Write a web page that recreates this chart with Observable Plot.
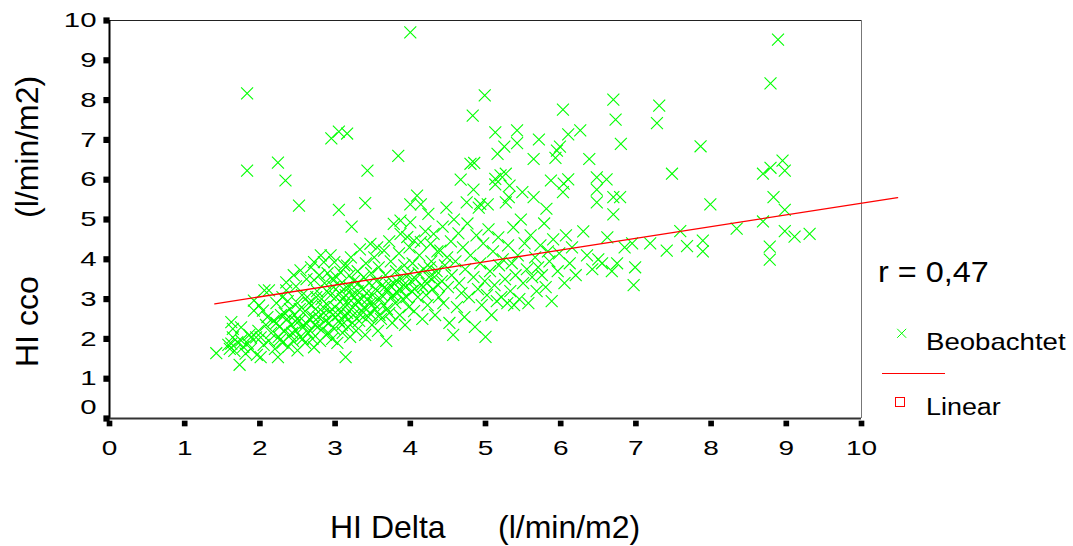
<!DOCTYPE html>
<html><head><meta charset="utf-8">
<script src="https://cdn.jsdelivr.net/npm/d3@7"></script>
<script src="https://cdn.jsdelivr.net/npm/@observablehq/plot@0.6"></script>
<style>body{margin:0;background:#fff} #chart svg{display:block}</style>
</head><body><div id="chart"></div>
<script>
// ---- data ----
const xTicks = [0,1,2,3,4,5,6,7,8,9,10];
const yTicks = [0,1,2,3,4,5,6,7,8,9,10];
const xTitle = ["HI Delta", "(l/min/m2)"];
const yTitle = ["HI cco", "(l/min/m2)"];
const rLabel = "r = 0,47";
const legendLabels = ["Beobachtet", "Linear"];
// linear fit end points [HI Delta, HI cco]
const fitX = [1.40, 10.48];
const fitY = [2.88, 5.55];
// observations [HI Delta, HI cco], grouped by HI Delta range
const obsBelow2 = [[1.42,1.64],[1.58,1.85],[1.60,1.75],[1.62,2.42],[1.64,2.25],[1.64,2.04],[1.62,1.88],[1.66,1.70],[1.70,1.92],[1.73,1.35],[1.75,1.96],[1.75,2.29],[1.78,1.80],[1.81,1.63],[1.84,1.88],[1.86,2.10],[1.88,2.04],[1.88,1.75],[1.92,2.71],[1.92,2.96],[1.95,2.04],[1.96,1.60],[1.98,2.20],[1.99,2.84],[1.83,8.17],[1.83,6.23]];
const obs2 = [[2.01,2.04],[2.01,1.54],[2.04,2.71],[2.06,3.22],[2.12,3.22],[2.05,1.85],[2.08,2.35],[2.10,2.55],[2.12,1.95],[2.15,2.15],[2.18,2.45],[2.20,1.75],[2.22,2.90],[2.24,1.54],[2.24,6.43],[2.25,2.05],[2.26,2.30],[2.28,2.60],[2.30,3.05],[2.30,1.90],[2.32,2.20],[2.34,5.98],[2.35,3.42],[2.35,3.22],[2.36,2.50],[2.38,1.80],[2.40,2.75],[2.40,2.10],[2.42,2.35],[2.44,1.95],[2.45,3.60],[2.46,2.60],[2.48,3.32],[2.48,2.20],[2.50,1.71],[2.50,2.90]];
const obs25 = [[2.52,5.35],[2.54,3.72],[2.52,2.45],[2.54,2.05],[2.56,3.10],[2.58,2.30],[2.60,2.70],[2.60,1.90],[2.62,3.50],[2.64,2.15],[2.65,2.90],[2.66,2.50],[2.68,3.80],[2.70,2.00],[2.72,3.48],[2.72,3.93],[2.72,1.79],[2.73,2.35],[2.74,2.75],[2.76,3.20],[2.78,2.55],[2.80,1.95],[2.81,4.10],[2.82,3.00],[2.83,2.25],[2.85,3.93],[2.85,2.65],[2.86,3.40],[2.88,2.10],[2.90,2.85],[2.90,3.65],[2.92,2.40],[2.94,4.10],[2.94,3.10],[2.95,7.04],[2.96,2.00],[2.97,2.60],[2.98,3.30],[2.99,3.93],[2.99,2.25]];
const obs3 = [[3.00,2.80],[3.02,3.55],[3.03,1.90],[3.05,7.21],[3.05,5.24],[3.05,2.45],[3.06,3.15],[3.07,3.68],[3.08,2.70],[3.10,2.15],[3.10,3.00],[3.12,3.85],[3.13,2.55],[3.14,1.54],[3.15,3.30],[3.16,7.16],[3.16,3.84],[3.17,2.30],[3.18,2.90],[3.19,3.59],[3.20,2.05],[3.21,4.05],[3.22,4.82],[3.22,3.10],[3.24,2.60],[3.25,3.45],[3.27,2.85],[3.28,2.20],[3.30,3.70],[3.30,3.20],[3.32,2.45],[3.33,4.25],[3.35,3.00],[3.36,2.70],[3.38,3.55],[3.40,5.41],[3.40,2.10],[3.41,3.90],[3.42,3.15],[3.43,6.23],[3.44,2.55],[3.45,3.40],[3.47,4.39],[3.47,2.90],[3.48,3.65],[3.49,2.35]];
const obs35 = [[3.50,3.10],[3.52,4.05],[3.53,2.75],[3.55,3.45],[3.56,4.30],[3.57,2.20],[3.58,3.80],[3.60,3.00],[3.61,2.50],[3.63,3.35],[3.65,4.22],[3.65,2.85],[3.67,3.60],[3.68,1.95],[3.70,3.20],[3.72,4.45],[3.72,2.65],[3.74,3.95],[3.75,3.05],[3.76,2.40],[3.78,4.89],[3.78,3.40],[3.80,2.90],[3.81,3.70],[3.83,3.15],[3.84,6.60],[3.85,4.15],[3.86,2.60],[3.87,4.97],[3.87,4.64],[3.88,3.50],[3.90,3.00],[3.92,3.85],[3.93,2.35],[3.94,3.30],[3.96,4.56],[3.97,3.60],[3.98,2.80],[3.99,4.30]];
const obs4 = [[4.00,9.70],[4.00,5.38],[4.00,4.93],[4.02,3.20],[4.03,3.90],[4.05,4.47],[4.05,2.70],[4.07,3.50],[4.09,5.60],[4.10,3.05],[4.12,4.10],[4.14,5.38],[4.14,4.43],[4.15,3.35],[4.16,2.50],[4.18,3.75],[4.20,4.70],[4.21,3.10],[4.23,2.85],[4.24,5.14],[4.25,3.55],[4.27,4.39],[4.28,3.95],[4.30,3.25],[4.31,4.64],[4.33,2.60],[4.35,3.70],[4.36,4.20],[4.38,3.05],[4.40,4.22],[4.42,3.45],[4.43,4.82],[4.44,2.90],[4.46,3.85],[4.48,5.30],[4.49,4.05]];
const obs45 = [[4.50,3.30],[4.52,2.40],[4.54,4.45],[4.55,3.60],[4.57,2.10],[4.58,5.00],[4.60,3.95],[4.62,2.80],[4.64,4.65],[4.65,3.40],[4.67,6.00],[4.68,3.15],[4.70,4.30],[4.72,2.55],[4.73,3.75],[4.75,5.43],[4.76,4.90],[4.78,3.05],[4.80,4.10],[4.80,6.40],[4.83,7.61],[4.84,5.75],[4.84,3.55],[4.85,6.42],[4.86,2.30],[4.88,4.60],[4.90,3.25],[4.91,5.30],[4.93,5.39],[4.93,3.90],[4.95,2.85],[4.97,4.40],[4.99,8.12],[4.99,3.45]];
const obs5 = [[5.00,2.05],[5.02,3.10],[5.03,5.38],[5.04,4.75],[5.06,3.70],[5.08,2.60],[5.10,4.20],[5.12,3.35],[5.13,7.19],[5.13,6.02],[5.13,5.88],[5.15,2.95],[5.16,6.65],[5.17,4.55],[5.18,3.85],[5.20,6.11],[5.21,3.05],[5.23,4.00],[5.25,6.83],[5.26,3.50],[5.27,6.15],[5.27,5.43],[5.29,2.90],[5.30,4.35],[5.31,5.56],[5.32,5.85],[5.33,3.20],[5.35,3.90],[5.37,4.80],[5.38,2.85],[5.40,3.60],[5.42,7.24],[5.42,6.92],[5.43,4.10],[5.45,3.00],[5.47,5.00],[5.49,5.69]];
const obs55 = [[5.50,3.40],[5.52,4.40],[5.55,3.75],[5.57,2.90],[5.60,4.60],[5.62,3.55],[5.64,5.56],[5.64,6.52],[5.66,4.05],[5.68,3.20],[5.70,3.80],[5.71,7.01],[5.73,4.35],[5.75,3.60],[5.78,4.90],[5.80,3.30],[5.81,5.27],[5.83,4.20],[5.85,3.95],[5.87,5.98],[5.88,2.95],[5.90,4.50],[5.93,6.55],[5.95,6.73],[5.96,3.70],[5.98,4.15],[5.99,6.83]];
const obs6 = [[6.03,7.76],[6.03,5.69],[6.04,5.90],[6.05,3.40],[6.07,4.60],[6.10,7.14],[6.10,6.01],[6.12,3.90],[6.15,4.30],[6.20,3.60],[6.26,7.24],[6.30,4.70],[6.35,4.10],[6.38,6.52],[6.42,3.75],[6.48,6.06],[6.48,5.75],[6.48,5.43],[6.50,4.00],[6.55,3.90],[6.61,6.01],[6.62,4.55],[6.68,3.70],[6.70,8.01],[6.70,5.56],[6.70,5.13],[6.73,7.51],[6.75,3.90],[6.79,5.56],[6.80,6.90],[6.85,4.30],[6.95,4.40],[6.97,3.35],[6.99,3.80]];
const obs7up = [[7.19,4.40],[7.28,7.42],[7.31,7.86],[7.41,4.22],[7.48,6.15],[7.59,4.71],[7.68,4.33],[7.86,6.84],[7.89,4.47],[7.89,4.20],[7.99,5.38],[8.34,4.77],[8.69,4.95],[8.69,6.15],[8.78,4.32],[8.78,3.99],[8.79,8.42],[8.79,6.30],[8.83,5.56],[8.89,9.52],[8.95,6.48],[8.98,6.23],[8.98,5.24],[8.98,4.71],[9.11,4.57],[9.31,4.64]];
const obsCore = [[2.22,2.40],[2.27,1.98],[2.33,2.65],[2.37,2.95],[2.43,2.15],[2.47,2.45],[2.53,2.75],[2.57,2.00],[2.61,2.40],[2.63,3.05],[2.67,2.20],[2.69,2.85],[2.71,2.55],[2.75,3.05],[2.77,2.30],[2.79,3.60],[2.84,2.80],[2.87,2.45],[2.89,3.20],[2.91,2.15],[2.93,2.70],[2.96,3.50],[3.01,3.05],[3.04,2.60],[3.06,3.35],[3.09,2.35],[3.11,2.85],[3.14,3.10],[3.16,2.65],[3.19,3.30],[3.21,2.75],[3.23,2.40],[3.26,3.05],[3.29,2.95],[3.31,3.40],[3.34,2.60],[3.37,3.25],[3.39,2.80],[3.43,3.00],[3.46,2.65],[3.51,2.90],[3.54,3.25],[3.59,2.60],[3.62,3.10],[3.66,3.30],[3.69,2.75],[3.73,3.35],[3.77,3.10],[3.82,3.45],[3.86,3.25],[3.91,3.35],[3.95,3.05],[4.01,3.45],[4.06,3.25],[4.11,3.65],[4.17,3.30],[4.22,3.40],[4.26,3.80],[4.32,3.55],[4.37,3.35]];

// ---- build ----
const FONT = "Arial, 'Liberation Sans', sans-serif";
const GREEN = "#00ff00", RED = "#ff0000";
const points = [].concat(obsBelow2, obs2, obs25, obsCore, obs3, obs35, obs4, obs45, obs5, obs55, obs6, obs7up)
  .map(([x, y]) => ({x, y}));
const fit = fitX.map((x, i) => ({x, y: fitY[i]}));

const svg = Plot.plot({
  width: 1073, height: 546,
  marginLeft: 109, marginRight: 212, marginTop: 20, marginBottom: 128,
  style: {fontFamily: FONT, background: "#fff", color: "#000", overflow: "visible"},
  x: {domain: [0, 10], axis: null},
  y: {domain: [0, 10], axis: null},
  marks: [
    Plot.ruleY([10], {stroke: "#222", strokeWidth: 1}),
    Plot.ruleX([10], {stroke: "#777", strokeWidth: 1}),
    Plot.dot(points, {x: "x", y: "y", symbol: "times", r: 5.5, stroke: GREEN, strokeWidth: 1.1}),
    Plot.line(fit, {x: "x", y: "y", stroke: RED, strokeWidth: 1.3}),
    Plot.ruleX([0], {stroke: "#000", strokeWidth: 2}),
    Plot.ruleY([0], {stroke: "#333", strokeWidth: 2}),
    Plot.dot(yTicks, {x: () => 0, y: d => d, symbol: "square", r: 3.5, fill: "#000", stroke: null, dx: -3}),
    Plot.dot(xTicks, {x: d => d, y: () => 0, symbol: "square", r: 3.2, fill: "#000", stroke: null, dy: 5}),
    Plot.text(yTicks.filter(d => d > 0), {x: () => 0, y: d => d, text: d => String(d), textAnchor: "end", lineAnchor: "middle", dx: -13, fontSize: 21, fill: "#000"}),
    Plot.text(yTicks.filter(d => d === 0), {x: () => 0, y: d => d, text: d => String(d), textAnchor: "end", lineAnchor: "middle", dx: -13, dy: -11, fontSize: 21, fill: "#000"}),
    Plot.text(xTicks, {x: d => d, y: () => 0, text: d => String(d), textAnchor: "middle", lineAnchor: "middle", dy: 30, fontSize: 20, fill: "#000"})
  ]
});

// horizontal stretch of the SPSS-like tick labels
function stretchGroup(g, s) {
  g.querySelectorAll("text").forEach(t => {
    let tr = t.getAttribute("transform");
    if (!tr) {
      const x = +(t.getAttribute("x") || 0), y = +(t.getAttribute("y") || 0);
      t.removeAttribute("x"); t.removeAttribute("y");
      tr = `translate(${x},${y})`;
    }
    t.setAttribute("transform", `${tr} scale(${s},1)`);
  });
}
svg.querySelectorAll('g[aria-label="text"]').forEach(g => stretchGroup(g, 1.4));

const S = d3.select(svg);
function addText(x, y, txt, size, sx = 1, rot = 0) {
  return S.append("text")
    .attr("transform", `translate(${x},${y})${rot ? ` rotate(${rot})` : ""} scale(${sx},1)`)
    .attr("text-anchor", "start")
    .attr("font-size", size).attr("font-family", FONT).attr("fill", "#000").text(txt);
}
// axis titles
addText(330, 538, xTitle[0], 32);
addText(498, 538, xTitle[1], 32);
addText(38, 367, yTitle[0], 32, 1, -90);
addText(38, 218, yTitle[1], 32, 1, -90);
// legend
addText(878, 282, rLabel, 30, 1.08);
const L = S.append("g");
L.append("path").attr("d", "M897.2,328.8L906.2,337.8M897.2,337.8L906.2,328.8").attr("stroke", GREEN).attr("fill", "none");
addText(926, 350, legendLabels[0], 23, 1.2);
L.append("line").attr("x1", 882).attr("x2", 945).attr("y1", 373.5).attr("y2", 373.5).attr("stroke", RED).attr("stroke-width", 1);
L.append("rect").attr("x", 895.5).attr("y", 397.5).attr("width", 9).attr("height", 9).attr("stroke", RED).attr("fill", "none");
addText(926, 415, legendLabels[1], 23, 1.17);

document.getElementById("chart").appendChild(svg);
</script>
</body></html>
